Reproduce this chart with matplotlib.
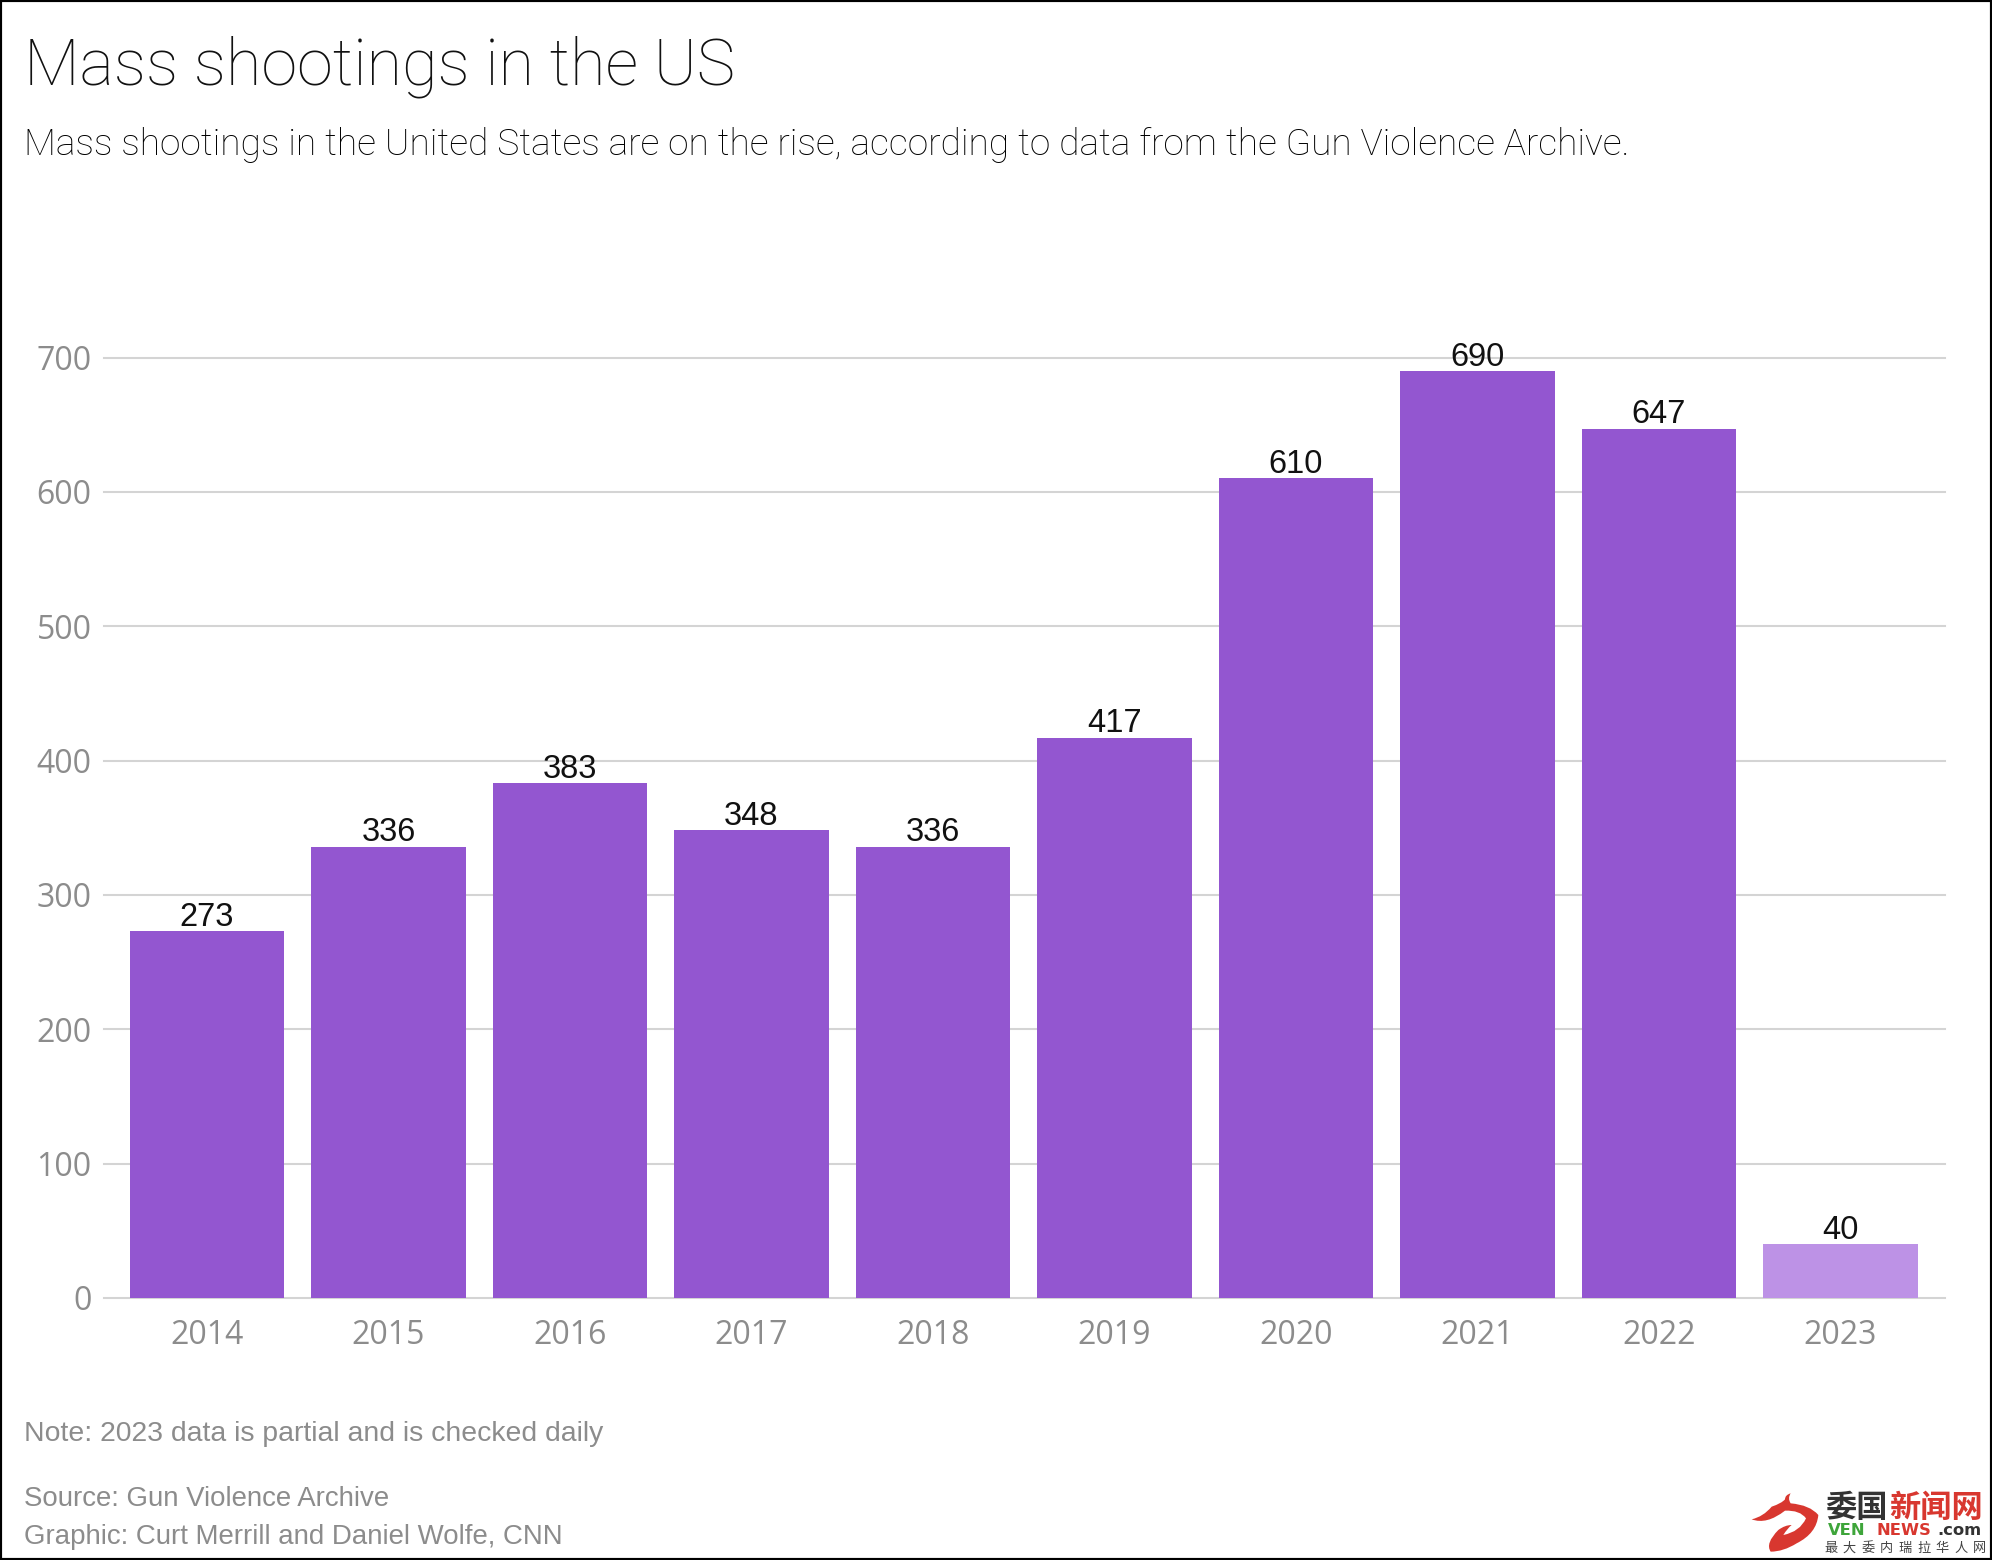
import matplotlib
matplotlib.use('Agg')
import matplotlib.pyplot as plt
from matplotlib.patches import PathPatch, Rectangle
from matplotlib.path import Path

W, H = 1992, 1560

years = ['2014', '2015', '2016', '2017', '2018', '2019', '2020', '2021', '2022', '2023']
shootings = [273, 336, 383, 348, 336, 417, 610, 690, 647, 40]
y_ticks = [0, 100, 200, 300, 400, 500, 600, 700]

title = 'Mass shootings in the US'
subtitle = 'Mass shootings in the United States are on the rise, according to data from the Gun Violence Archive.'
note = 'Note: 2023 data is partial and is checked daily'
source = 'Source: Gun Violence Archive'
credit = 'Graphic: Curt Merrill and Daniel Wolfe, CNN'
logo_line = '最大委内瑞拉华人网'

PURPLE = '#9356d0'
PURPLE_LIGHT = '#bd92e6'
GREY = '#8c8c8c'
GRID = '#d4d4d4'


# координаты в пикселях картинки -> координаты фигуры
def fx(x):
    return x / W


def fy(y):
    return 1 - y / H


def put_text(x, y, s, **kw):
    fig.text(fx(x), fy(y), s, **kw)


fig = plt.figure(figsize=(W / 100, H / 100), dpi=100, facecolor='white')
ax = fig.add_axes([fx(104), fy(1298), (1945 - 104) / W, (1298 - 357.5) / H])

positions = list(range(len(years)))
colors = [PURPLE] * 9 + [PURPLE_LIGHT]
bars = ax.bar(positions, shootings, width=0.85, color=colors, zorder=3)

ax.bar_label(bars, labels=[str(v) for v in shootings], padding=-1.2, fontsize=23.5,
             family='Liberation Sans', color='#111111', zorder=4)

ax.set_xlim(-0.567, 9.576)
ax.set_ylim(0, 700)
ax.set_xticks(positions, years)
ax.set_yticks(y_ticks)
ax.tick_params(axis='both', length=0, labelsize=23, labelcolor=GREY)
ax.tick_params(axis='x', pad=15)
ax.tick_params(axis='y', pad=9)
for lab in ax.get_xticklabels() + ax.get_yticklabels():
    lab.set_family('Open Sans')
ax.grid(axis='y', color=GRID, linewidth=1.5, zorder=0)
ax.set_axisbelow(True)
for s in ax.spines.values():
    s.set_visible(False)
for line in ax.get_ygridlines():
    line.set_clip_on(False)

put_text(24, 85, title, fontsize=46.6, family='Roboto', weight='light', color='#111111', va='baseline')
put_text(24, 155, subtitle, fontsize=26.7, family='Roboto', weight='light', color='#000000', va='baseline')
put_text(24, 1441, note, fontsize=20.4, family='Liberation Sans', color=GREY, va='baseline')
put_text(24, 1506, source, fontsize=19.9, family='Liberation Sans', color=GREY, va='baseline')
put_text(24, 1544, credit, fontsize=19.9, family='Liberation Sans', color=GREY, va='baseline')

# логотип в углу
cjk = ['Noto Sans CJK SC', 'DejaVu Sans']
put_text(1825, 1517, '委国', fontsize=22.5, family=cjk, weight='bold', color='#333333', va='baseline')
put_text(1889, 1517, '新闻网', fontsize=22.5, family=cjk, weight='bold', color='#d8372f', va='baseline')
put_text(1828, 1535, 'VEN', fontsize=11.8, family='DejaVu Sans', weight='bold', color='#3ea53a', va='baseline')
put_text(1876, 1535, 'NEWS', fontsize=11.8, family='DejaVu Sans', weight='bold', color='#d8372f', va='baseline')
put_text(1937, 1535, '.com', fontsize=11.8, family='DejaVu Sans', weight='bold', color='#333333', va='baseline')
for i, ch in enumerate(logo_line):
    put_text(1824 + i * 18.6, 1552, ch, fontsize=9.5, family=cjk, color='#444444', va='baseline')

# дракон: контур в координатах зума (зум 3x от точки 1700,1460)
C3 = Path.CURVE3
outline = [((155, 178), Path.MOVETO),
           ((190, 170), C3), ((215, 140), C3),
           ((245, 130), C3), ((255, 118), C3),
           ((255, 105), C3), ((272, 100), C3),
           ((262, 115), C3), ((272, 130), C3),
           ((330, 135), C3), ((355, 165), C3),
           ((350, 220), C3), ((290, 250), C3),
           ((250, 275), C3), ((212, 275), C3),
           ((195, 250), C3), ((235, 210), C3),
           ((255, 195), C3), ((275, 195), C3),
           ((262, 205), C3), ((250, 225), C3),
           ((300, 215), C3), ((318, 175), C3),
           ((300, 150), C3), ((255, 152), C3),
           ((200, 195), C3), ((155, 178), C3)]
verts = [(fx(1700 + x / 3), fy(1460 + y / 3)) for (x, y), c in outline]
codes = [c for (x, y), c in outline]
fig.add_artist(PathPatch(Path(verts, codes), transform=fig.transFigure,
                         facecolor='#d8372f', edgecolor='none'))

# рамка вокруг всей картинки
fig.add_artist(Rectangle((0, 0), 1, 1, transform=fig.transFigure, fill=False,
                         edgecolor='black', linewidth=3))

fig.savefig('out.png', dpi=100)
